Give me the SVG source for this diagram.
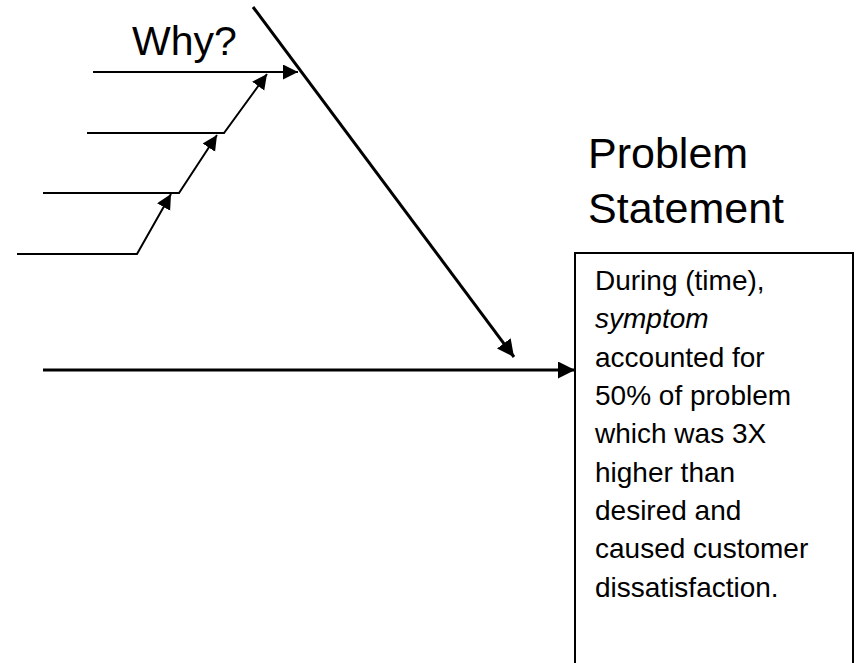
<svg xmlns="http://www.w3.org/2000/svg" width="858" height="663" viewBox="0 0 858 663">
<style>
  .ln { stroke: #000; fill: none; }
  .thin { stroke-width: 2; }
  .thick { stroke-width: 3; }
  .t { font-family: "Liberation Sans", Arial, sans-serif; fill: #000; }
  .body { font-size: 28px; }
  .big { font-size: 43px; }
</style>
<defs>
  <marker id="ah" markerUnits="userSpaceOnUse" markerWidth="16" markerHeight="16" refX="15" refY="7.5" orient="auto">
    <path d="M0,0 L15,7.5 L0,15 Z" fill="#000"/>
  </marker>
  <marker id="ahL" markerUnits="userSpaceOnUse" markerWidth="20" markerHeight="20" refX="17" refY="8.5" orient="auto">
    <path d="M0,0 L17,8.5 L0,17 Z" fill="#000"/>
  </marker>
</defs>
<rect width="858" height="663" fill="#fff"/>
<g id="connectors">
  <line class="ln thick" x1="43" y1="370" x2="575" y2="370" marker-end="url(#ahL)"/>
  <line class="ln thick" x1="253" y1="7" x2="514" y2="357" marker-end="url(#ahL)"/>
  <line class="ln thin" x1="93" y1="72" x2="298" y2="72" marker-end="url(#ah)"/>
  <polyline class="ln thin" points="87,133 224,133 267,74" marker-end="url(#ah)"/>
  <polyline class="ln thin" points="43,193 179,193 217,135" marker-end="url(#ah)"/>
  <polyline class="ln thin" points="17,254 137,254 171,194" marker-end="url(#ah)"/>
</g>
<g id="why">
  <text class="t" x="132" y="55" font-size="41">Why?</text>
</g>
<g id="problem-title">
  <text class="t big" x="588" y="168">Problem</text>
  <text class="t big" x="588" y="223">Statement</text>
</g>
<g id="problem-box">
  <path class="ln thin" d="M575,670 L575,253 L853,253 L853,670"/>
  <text class="t body" x="595" y="290">During (time),</text>
  <text class="t body" x="595" y="328" font-style="italic">symptom</text>
  <text class="t body" x="595" y="366.5">accounted for</text>
  <text class="t body" x="595" y="405">50% of problem</text>
  <text class="t body" x="595" y="443">which was 3X</text>
  <text class="t body" x="595" y="481.5">higher than</text>
  <text class="t body" x="595" y="520">desired and</text>
  <text class="t body" x="595" y="558">caused customer</text>
  <text class="t body" x="595" y="596.5">dissatisfaction.</text>
</g>
</svg>
